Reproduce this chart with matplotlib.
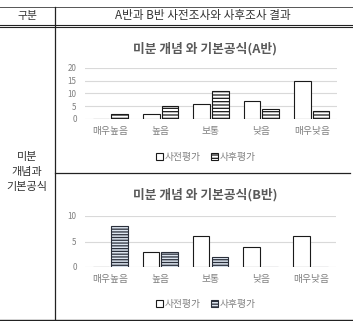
import matplotlib
matplotlib.use("Agg")
import matplotlib.pyplot as plt
import numpy as np

plt.rcParams['font.family'] = ['Noto Sans CJK KR', 'DejaVu Sans']
plt.rcParams['hatch.linewidth'] = 0.9

categories = ['매우높음', '높음', '보통', '낮음', '매우낮음']
series_names = ['사전평가', '사후평가']
a_pre = [0, 2, 6, 7, 15]
a_post = [2, 5, 11, 4, 3]
b_pre = [0, 3, 6, 4, 6]
b_post = [8, 3, 2, 0, 0]
a_ticks = [0, 5, 10, 15, 20]
b_ticks = [0, 5, 10]
title_a = '미분 개념 와 기본공식(A반)'
title_b = '미분 개념 와 기본공식(B반)'
header_left = '구분'
header_right = 'A반과 B반 사전조사와 사후조사 결과'
row_label = ['미분', '개념과', '기본공식']

W, H = 353, 321
fig = plt.figure(figsize=(W / 100, H / 100), dpi=100)

# background layer in pixel coordinates
bg = fig.add_axes([0, 0, 1, 1])
bg.set_xlim(0, W)
bg.set_ylim(H, 0)
bg.axis('off')
lc = '#222222'
bg.plot([0, W], [7, 7], color='#555555', lw=0.7)
bg.plot([0, W], [25.3, 25.3], color=lc, lw=0.8)
bg.plot([0, W], [27.3, 27.3], color=lc, lw=0.8)
bg.plot([55, 55], [7, 320], color=lc, lw=0.9)
bg.plot([55, 350], [173, 173], color=lc, lw=0.9)
bg.plot([0, W], [320, 320], color=lc, lw=1.0)
txt_c = '#333333'
bg.text(27, 15.5, header_left, ha='center', va='center', fontsize=7.8, color=txt_c)
bg.text(203, 15.5, header_right, ha='center', va='center', fontsize=8.4, color=txt_c)
for i, line in enumerate(row_label):
    bg.text(27, 157 + 15 * i, line, ha='center', va='center', fontsize=8.0, color=txt_c)

gray = '#595959'
grid_c = '#d9d9d9'


def px_axes(x0, x1, ytop, ybot):
    return fig.add_axes([x0 / W, 1 - ybot / H, (x1 - x0) / W, (ybot - ytop) / H])


def draw_chart(ax, pre, post, ticks, hatch_post, face_post, edge_post, title, title_y, legend_y):
    x = np.arange(len(categories))
    bw = 0.33
    b1 = ax.bar(x - 0.185, pre, bw, color='white', edgecolor='#1a1a1a', linewidth=0.8,
                label=series_names[0], zorder=3)
    b2 = ax.bar(x + 0.185, post, bw, color=face_post, edgecolor=edge_post, linewidth=0.8,
                hatch=hatch_post, label=series_names[1], zorder=3)
    ax.set_xlim(-0.5, len(categories) - 0.5)
    ax.set_ylim(ticks[0], ticks[-1])
    ax.set_yticks(ticks)
    ax.set_xticks(x)
    ax.set_xticklabels(categories)
    for s in ax.spines.values():
        s.set_visible(False)
    ax.grid(axis='y', color=grid_c, lw=0.8, zorder=0)
    ax.set_axisbelow(True)
    ax.tick_params(axis='y', length=0, pad=6, labelsize=5.8, labelcolor='#7f7f7f')
    ax.tick_params(axis='x', length=0, pad=5.0, labelsize=7.0, labelcolor='#7f7f7f')
    ax.patch.set_alpha(0)
    fig.text(205 / W, 1 - title_y / H, title, ha='center', va='center', fontsize=9.2,
             fontweight='bold', color=gray)
    ax.legend(handles=[b1, b2], loc='center', bbox_to_anchor=(206 / W, 1 - legend_y / H),
              bbox_transform=fig.transFigure, ncol=2, frameon=False, fontsize=7.0,
              handlelength=0.75, handleheight=0.75, handletextpad=0.2, columnspacing=1.0,
              labelcolor='#7f7f7f')


axA = px_axes(85, 337, 67.7, 119)
draw_chart(axA, a_pre, a_post, a_ticks, '-----', 'white', '#1a1a1a', title_a, 48.5, 157)

axB = px_axes(85, 336, 216, 267)
draw_chart(axB, b_pre, b_post, b_ticks, '------', '#dde5f0', '#2a2f3a', title_b, 195, 304)

fig.savefig('out.png', dpi=100)
